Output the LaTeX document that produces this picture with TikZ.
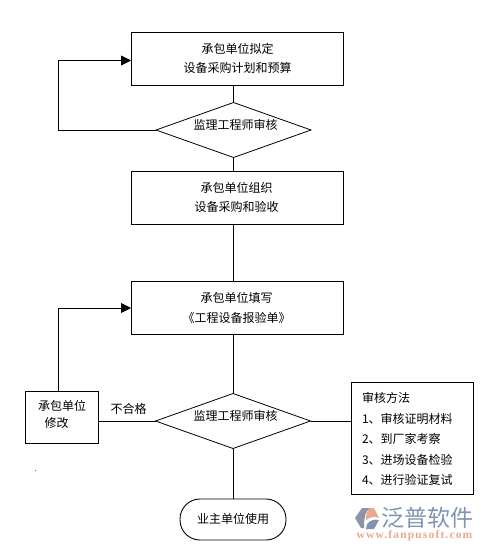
\documentclass[tikz,border=0pt]{standalone}
\usepackage{fontspec}
\setmainfont{Noto Sans CJK SC}[BoldFont=Noto Sans CJK SC Medium]
\newfontfamily\latinserif{Liberation Serif}[LetterSpace=10]
\usetikzlibrary{shapes.geometric,arrows.meta}
\definecolor{logoblue}{HTML}{8094B4}
\definecolor{logogray}{HTML}{8C95A5}
\definecolor{logoorange}{HTML}{E8A98C}
\tikzset{
  x=1pt,y=-1pt,
  every node/.style={font=\fontsize{12}{12}\selectfont,text=black,inner sep=0pt,outer sep=0pt,align=center},
  flowbox/.style={draw,line width=0.9pt,minimum width=212pt,minimum height=53pt},
  decision/.style={draw,line width=0.8pt,diamond,aspect=2.85,minimum width=155pt,minimum height=55pt},
  conn/.style={line width=0.9pt},
  tip/.style={-{Triangle[length=10pt,width=10pt]},line width=0.9pt}
}
\begin{document}
\begin{tikzpicture}
\useasboundingbox (0,0) rectangle (484,551);
\node[flowbox] (plan) at (237,58.5) {};
\node (plana) at (237.5,48.5) {承包单位拟定};
\node (planb) at (237.5,68) {设备采购计划和预算};
\node[flowbox] (buy) at (237,197.5) {};
\node (buya) at (236.5,188) {承包单位组织};
\node (buyb) at (236.5,207) {设备采购和验收};
\node[flowbox] (fill) at (237,308) {};
\node (filla) at (236.5,298) {承包单位填写};
\node (fillb) at (236.5,318) {《工程设备报验单》};
\node[decision] (d1) at (233.5,130) {};
\node (d1t) at (235.5,125) {监理工程师审核};
\node[decision] (d2) at (233,421) {};
\node (d2t) at (235.5,416) {监理工程师审核};
\node[draw,line width=0.9pt,minimum width=73pt,minimum height=52pt] (fix) at (61.5,417) {};
\node (fixa) at (62,406) {承包单位};
\node (fixb) at (56.5,423) {修改};
\node (bad) at (128.5,409) {不合格};
\node[draw,line width=0.9pt,minimum width=122pt,minimum height=112pt] (method) at (412.5,438) {};
\node[anchor=west] (m0) at (362,398) {审核方法};
\node[anchor=west] (m1) at (362,419) {1、审核证明材料};
\node[anchor=west] (m2) at (362,439) {2、到厂家考察};
\node[anchor=west] (m3) at (362,460) {3、进场设备检验};
\node[anchor=west] (m4) at (362,480) {4、进行验证复试};
\node[draw,line width=0.9pt,rounded corners=20pt,minimum width=106pt,minimum height=41pt] (use) at (233,519.5) {};
\node (uset) at (233,519) {业主单位使用};
\draw[conn] (plan.south -| d1.north) -- (d1.north);
\draw[conn] (d1.south) -- (buy.north -| d1.south);
\draw[conn] (buy.south -| d1.south) -- (fill.north -| d1.south);
\draw[conn] (fill.south -| d2.north) -- (d2.north);
\draw[conn] (d2.south) -- (use.north);
\draw[conn] (d2.east) -- (method.west |- d2.east);
\draw[conn] (d2.west) -- (fix.east |- d2.west);
\coordinate (loopa) at (58,130);
\coordinate (loopb) at (58,60.5);
\draw[tip] (d1.west) -- (loopa) -- (loopb) -- (plan.west |- loopb);
\coordinate (loopc) at (58,308);
\draw[tip] (fix.north -| loopc) -- (loopc) -- (fill.west |- loopc);
\node[font=\fontsize{23}{23}\selectfont,text=logoblue,anchor=center] (brand) at (427.5,518) {泛普软件};
\node[font=\fontsize{11.5}{11.5}\latinserif\bfseries,text=logoorange,anchor=center] (site) at (414.5,535.5) {www.fanpusoft.com};
\fill[logogray] (355,518) -- (362,508) -- (370,508) .. controls (366,511) and (364,516) .. (364,528) -- (361,528) -- cycle;
\fill[logoorange] (370,508) -- (374,508) -- (379,518) .. controls (375,516) and (370,517) .. (366,520) .. controls (366,515) and (367,511) .. (370,508) -- cycle;
\fill[logoblue] (367,524) .. controls (370,520) and (375,519) .. (379,520) -- (374,529) -- (366,529) -- cycle;
\fill[black!70] (35.5,470.5) circle (0.5pt);
\end{tikzpicture}
\end{document}
